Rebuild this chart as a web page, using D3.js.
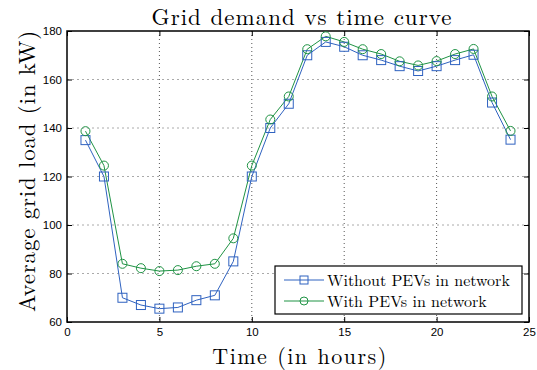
<!DOCTYPE html>
<html>
<head>
<meta charset="utf-8">
<script src="https://cdn.jsdelivr.net/npm/d3@7"></script>
<style>
  body { margin: 0; background: #fff; }
  svg { display: block; }
  .tick text { font-family: "Liberation Sans", Arial, sans-serif; font-size: 11.5px; fill: #000; }
  .serif { font-family: "Latin Modern Roman", "DejaVu Serif", "Liberation Serif", serif; fill: #000; }
</style>
</head>
<body>
<script>
// hours 1..24
const hours = [1,2,3,4,5,6,7,8,9,10,11,12,13,14,15,16,17,18,19,20,21,22,23,24];
const withoutPEV = [135,120,70,67,65.5,66,69,71,85,120,140,150,170,175.5,173.5,170,168,165.5,163.5,165.5,168,170.2,150.5,135.2];
const withPEV = [138.7,124.5,84,82.2,81,81.4,83,84,94.5,124.5,143.5,153,172.5,177.8,175.5,172.5,170.5,167.5,165.8,167.6,170.5,172.6,153,138.8];
const xTicks = [0,5,10,15,20,25];
const yTicks = [60,80,100,120,140,160,180];
const seriesNames = ["Without PEVs in network", "With PEVs in network"];

const W = 537, H = 370;
const margin = { top: 31, right: 8, bottom: 48, left: 67 };
const w = W - margin.left - margin.right,
      h = H - margin.top - margin.bottom;

const svg = d3.select("body").append("svg")
    .attr("width", W)
    .attr("height", H);

const g = svg.append("g")
    .attr("transform", "translate(" + margin.left + "," + margin.top + ")");

const x = d3.scaleLinear().domain([0, 25]).range([0, w]);
const y = d3.scaleLinear().domain([60, 180]).range([h, 0]);

// grid
g.selectAll(".vgrid").data(xTicks.slice(1, -1)).enter().append("line")
    .attr("x1", d => x(d)).attr("x2", d => x(d))
    .attr("y1", 0).attr("y2", h)
    .attr("stroke", "#555").attr("stroke-width", 1)
    .attr("stroke-dasharray", "1,3");
g.selectAll(".hgrid").data(yTicks.slice(1, -1)).enter().append("line")
    .attr("x1", 0).attr("x2", w)
    .attr("y1", d => y(d)).attr("y2", d => y(d))
    .attr("stroke", "#aaa").attr("stroke-width", 1)
    .attr("stroke-dasharray", "2,3");

// axes
g.append("g")
    .attr("transform", "translate(0," + h + ")")
    .call(d3.axisBottom(x).tickValues(xTicks).tickSize(-5).tickPadding(6))
    .call(a => a.select(".domain").remove());
g.append("g")
    .call(d3.axisLeft(y).tickValues(yTicks).tickSize(-5).tickPadding(5))
    .call(a => a.select(".domain").remove());
g.append("g")
    .call(d3.axisTop(x).tickValues(xTicks).tickSize(-5).tickFormat(""))
    .call(a => a.select(".domain").remove());
g.append("g")
    .attr("transform", "translate(" + w + ",0)")
    .call(d3.axisRight(y).tickValues(yTicks).tickSize(-5).tickFormat(""))
    .call(a => a.select(".domain").remove());

g.append("rect")
    .attr("width", w).attr("height", h)
    .attr("fill", "none").attr("stroke", "#000").attr("stroke-width", 1.5);

// series
const colors = ["#2f62c0", "#1f9344"];
const line = d3.line().x((d, i) => x(hours[i])).y(d => y(d));

g.append("path").datum(withoutPEV)
    .attr("d", line).attr("fill", "none")
    .attr("stroke", colors[0]).attr("stroke-width", 1);
g.append("path").datum(withPEV)
    .attr("d", line).attr("fill", "none")
    .attr("stroke", colors[1]).attr("stroke-width", 1);

g.selectAll(".sq").data(withoutPEV).enter().append("rect")
    .attr("x", (d, i) => x(hours[i]) - 4.5)
    .attr("y", d => y(d) - 4.5)
    .attr("width", 9).attr("height", 9)
    .attr("fill", "none").attr("stroke", colors[0]).attr("stroke-width", 1);
g.selectAll(".ci").data(withPEV).enter().append("circle")
    .attr("cx", (d, i) => x(hours[i]))
    .attr("cy", d => y(d))
    .attr("r", 4.5)
    .attr("fill", "none").attr("stroke", colors[1]).attr("stroke-width", 1);

// legend
const lg = svg.append("g").attr("transform", "translate(275,266)");
lg.append("rect").attr("width", 247).attr("height", 48)
    .attr("fill", "#fff").attr("stroke", "#000").attr("stroke-width", 1.2);
seriesNames.forEach((name, i) => {
    const yy = 14 + i * 21;
    lg.append("line").attr("x1", 9).attr("x2", 49).attr("y1", yy).attr("y2", yy)
        .attr("stroke", colors[i]).attr("stroke-width", 1);
    if (i === 0) {
        lg.append("rect").attr("x", 25).attr("y", yy - 4).attr("width", 8).attr("height", 8)
            .attr("fill", "none").attr("stroke", colors[i]);
    } else {
        lg.append("circle").attr("cx", 29).attr("cy", yy).attr("r", 4)
            .attr("fill", "none").attr("stroke", colors[i]);
    }
    lg.append("text").attr("class", "serif").attr("x", 52).attr("y", yy + 5.5)
        .style("font-size", "16px").text(name);
});

// titles
svg.append("text").attr("class", "serif")
    .attr("x", 302).attr("y", 25)
    .attr("text-anchor", "middle").style("font-size", "23px").style("letter-spacing", "1px")
    .text("Grid demand vs time curve");
svg.append("text").attr("class", "serif")
    .attr("x", 300).attr("y", 364)
    .attr("text-anchor", "middle").style("font-size", "22px").style("letter-spacing", "1.5px")
    .text("Time (in hours)");
svg.append("text").attr("class", "serif")
    .attr("transform", "translate(35,171) rotate(-90)")
    .attr("text-anchor", "middle").style("font-size", "23px").style("letter-spacing", "0.8px")
    .text("Average grid load (in kW)");
</script>
</body>
</html>
